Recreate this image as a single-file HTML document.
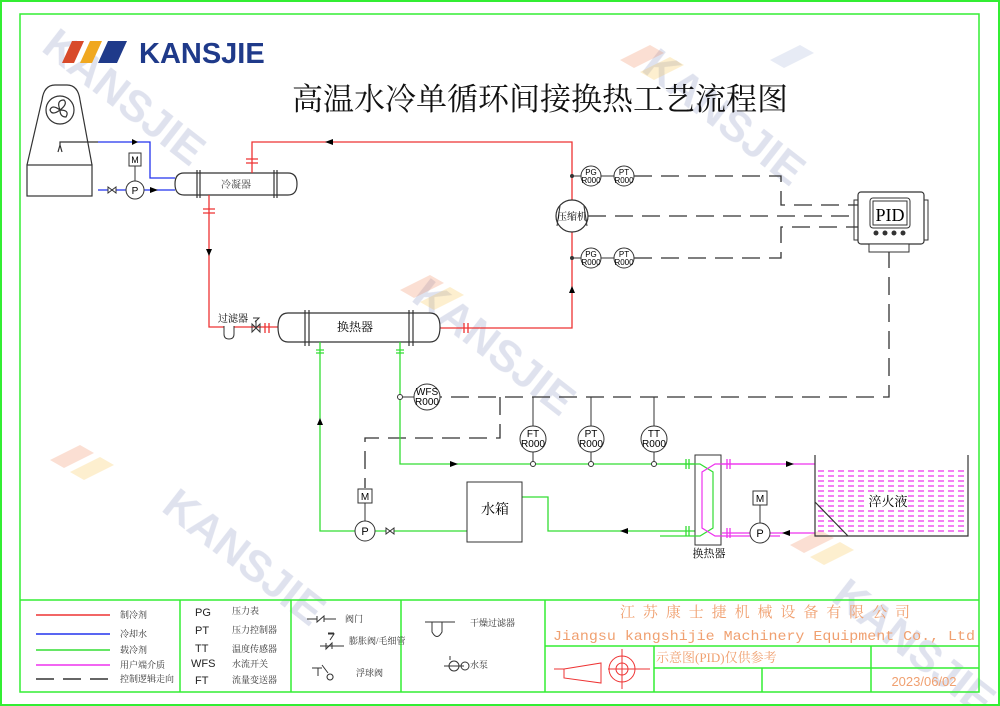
<!DOCTYPE html>
<html><head><meta charset="utf-8"><style>
body{margin:0;background:#fff;}
svg{display:block;font-family:"Liberation Sans","Noto Sans CJK SC",sans-serif;}
.s{font-family:"Liberation Serif","Noto Serif CJK SC",serif;}
</style></head><body>
<svg width="1000" height="706" viewBox="0 0 1000 706">
<!-- watermarks -->
<g fill="#c5cbe0" font-weight="bold" font-size="44" opacity="0.55">
<text transform="translate(40,50) rotate(38)">KANSJIE</text>
<text transform="translate(640,70) rotate(38)">KANSJIE</text>
<text transform="translate(410,300) rotate(38)">KANSJIE</text>
<text transform="translate(160,510) rotate(38)">KANSJIE</text>
<text transform="translate(830,600) rotate(38)">KANSJIE</text>
</g>
<g opacity="0.25">
<path d="M620,60 l30,-15 l14,8 l-30,15z" fill="#f08050"/><path d="M640,72 l30,-15 l14,8 l-30,15z" fill="#f5c040"/>
<path d="M400,290 l30,-15 l14,8 l-30,15z" fill="#f08050"/><path d="M420,302 l30,-15 l14,8 l-30,15z" fill="#f5c040"/>
<path d="M50,460 l30,-15 l14,8 l-30,15z" fill="#f08050"/><path d="M70,472 l30,-15 l14,8 l-30,15z" fill="#f5c040"/>
<path d="M790,545 l30,-15 l14,8 l-30,15z" fill="#f08050"/><path d="M810,557 l30,-15 l14,8 l-30,15z" fill="#f5c040"/>
<path d="M770,60 l30,-15 l14,8 l-30,15z" fill="#a0b0d8"/>
</g>
<!-- borders -->
<rect x="1" y="1" width="998" height="704" fill="none" stroke="#33ee33" stroke-width="2"/>
<rect x="20" y="14" width="959" height="678" fill="none" stroke="#33ee33" stroke-width="1.5"/>
<!-- logo -->
<path d="M72,41 h12 l-10,22 h-12z" fill="#d84a2a"/>
<path d="M90,41 h12 l-10,22 h-12z" fill="#f0a820"/>
<path d="M108,41 h19 l-10,22 h-19z" fill="#1f3a8a"/>
<text x="139" y="63" font-size="29" font-weight="bold" fill="#1f3a8a">KANSJIE</text>
<text x="540" y="110" font-size="31" text-anchor="middle" class="s" fill="#111">高温水冷单循环间接换热工艺流程图</text>

<g fill="none" stroke="#333" stroke-width="1.2">
<path d="M27,165 L42,100 Q44,85 55,85 L67,85 Q78,85 80,100 L92,165"/>
<rect x="27" y="165" width="65" height="31"/>
<circle cx="60" cy="110" r="14"/>
<path d="M60,110 q-4,-10 4,-10 q4,4 -4,10 M60,110 q10,0 6,7 q-6,0 -6,-7 M60,110 q-8,6 -10,0 q2,-6 10,0"/>
<path d="M58,152 l2,-7 l2,7 M60,145 v-3 h38"/>
</g>
<g fill="none" stroke="#2233ee" stroke-width="1.3">
<path d="M98,142 H150 V178 H175"/>
<path d="M98,190 H175"/>
</g>
<path d="M138,142 l-6,-3 v6z" fill="#000"/>
<path d="M158,190 l-8,-3 v6z" fill="#000"/>
<g fill="#fff" stroke="#333" stroke-width="1">
<path d="M108,187 v6 l8,-6 v6z"/>
<circle cx="135" cy="190" r="9"/>
<rect x="129" y="153" width="12" height="13"/>
</g>
<line x1="135" y1="166" x2="135" y2="181" stroke="#333"/>
<text x="135" y="194" font-size="10" text-anchor="middle">P</text>
<text x="135" y="163" font-size="9" text-anchor="middle">M</text>
<path d="M184,173 H288 Q297,173 297,184 Q297,195 288,195 H184 Q175,195 175,184 Q175,173 184,173z" fill="#fff" stroke="#333" stroke-width="1.2"/>
<g stroke="#333" stroke-width="1.2"><line x1="197" y1="170" x2="197" y2="198"/><line x1="200" y1="170" x2="200" y2="198"/><line x1="274" y1="170" x2="274" y2="198"/><line x1="277" y1="170" x2="277" y2="198"/></g>
<text x="236" y="188" font-size="10" text-anchor="middle" class="s" fill="#444">冷凝器</text>

<g fill="none" stroke="#ee3333" stroke-width="1.3">
<path d="M252,173 V142 H572 V200"/>
<path d="M572,232 V328 H440"/>
<path d="M209,195 V327 H278"/>
<path d="M246,159 h12 M246,163 h12 M203,209 h12 M203,213 h12 M464,323 v10 M468,323 v10 M265,323 v10 M269,323 v10"/>
</g>
<path d="M325,142 l8,-3 v6z" fill="#000"/>
<path d="M209,256 l-3,-7 h6z" fill="#000"/>
<path d="M572,286 l-3,7 h6z" fill="#000"/>
<path d="M224,326 v8 q0,5 5,5 q5,0 5,-5 v-8" fill="#fff" stroke="#333"/>
<text x="233" y="322" font-size="10" text-anchor="middle" class="s">过滤器</text>
<path d="M252,324 v8 l8,-8 v8z M256,328 v-8 M253,318 h6 l-4,4" fill="none" stroke="#333"/>
<path d="M288,313 H430 Q440,313 440,327 Q440,342 430,342 H288 Q278,342 278,327 Q278,313 288,313z" fill="#fff" stroke="#333" stroke-width="1.2"/>
<g stroke="#333" stroke-width="1.2"><line x1="305" y1="310" x2="305" y2="346"/><line x1="309" y1="310" x2="309" y2="346"/><line x1="409" y1="310" x2="409" y2="346"/><line x1="413" y1="310" x2="413" y2="346"/></g>
<text x="355" y="331" font-size="12" text-anchor="middle" class="s">换热器</text>

<circle cx="572" cy="216" r="16" fill="#fff" stroke="#333" stroke-width="1.2"/>
<path d="M560,206 l-3,20 M584,206 l3,20" stroke="#333" fill="none"/>
<text x="572" y="220" font-size="10" text-anchor="middle" class="s">压缩机</text>
<g fill="#fff" stroke="#333"><circle cx="591" cy="176" r="10"/><circle cx="624" cy="176" r="10"/><circle cx="591" cy="258" r="10"/><circle cx="624" cy="258" r="10"/></g>
<circle cx="572" cy="176" r="2" fill="#333"/><circle cx="572" cy="258" r="2" fill="#333"/>
<line x1="572" y1="176" x2="581" y2="176" stroke="#333"/><line x1="601" y1="176" x2="614" y2="176" stroke="#333"/>
<line x1="572" y1="258" x2="581" y2="258" stroke="#333"/><line x1="601" y1="258" x2="614" y2="258" stroke="#333"/>
<g font-size="8" text-anchor="middle"><text x="591" y="175">PG</text><text x="591" y="183">R000</text><text x="624" y="175">PT</text><text x="624" y="183">R000</text><text x="591" y="257">PG</text><text x="591" y="265">R000</text><text x="624" y="257">PT</text><text x="624" y="265">R000</text></g>
<g fill="none" stroke="#333" stroke-width="1.3" stroke-dasharray="18,9">
<path d="M634,176 H781 V205 H858"/>
<path d="M588,216 H858"/>
<path d="M634,258 H781 V227 H858"/>
<path d="M889,250 V397 H440"/>
<path d="M500,397 V438 H365 V488"/>
</g>
<rect x="858" y="192" width="66" height="52" rx="3" fill="#fff" stroke="#333" stroke-width="1.2"/>
<rect x="870" y="198" width="40" height="30" rx="3" fill="#fff" stroke="#333"/>
<rect x="873" y="201" width="34" height="24" fill="#fff" stroke="#333"/>
<text x="890" y="221" font-size="18" text-anchor="middle" class="s">PID</text>
<g fill="#333"><circle cx="876" cy="233" r="2.5"/><circle cx="885" cy="233" r="2.5"/><circle cx="894" cy="233" r="2.5"/><circle cx="903" cy="233" r="2.5"/></g>
<rect x="869" y="244" width="40" height="8" fill="#fff" stroke="#333"/>
<path d="M858,200 h-4 v40 h4 M924,200 h4 v40 h-4" fill="none" stroke="#333"/>

<g fill="none" stroke="#33dd33" stroke-width="1.3">
<path d="M320,342 V531 H355"/>
<path d="M375,531 H467"/>
<path d="M522,497 H548 V531 H695"/>
<path d="M400,342 V464 H695"/>
<path d="M316,350 h8 M316,353 h8 M396,350 h8 M396,353 h8 M686,459 v10 M689,459 v10 M686,526 v10 M689,526 v10"/>
</g>
<path d="M320,418 l-3,7 h6z" fill="#000"/>
<path d="M458,464 l-8,-3 v6z" fill="#000"/>
<path d="M620,531 l8,-3 v6z" fill="#000"/>
<circle cx="400" cy="397" r="2.5" fill="#fff" stroke="#333"/>
<line x1="402" y1="397" x2="414" y2="397" stroke="#333"/>
<circle cx="427" cy="397" r="13" fill="#fff" stroke="#333"/>
<g font-size="10" text-anchor="middle"><text x="427" y="395">WFS</text><text x="427" y="405">R000</text></g>
<g stroke="#333" fill="#fff">
<line x1="533" y1="397" x2="533" y2="462"/><line x1="591" y1="397" x2="591" y2="462"/><line x1="654" y1="397" x2="654" y2="462"/>
<circle cx="533" cy="439" r="13"/><circle cx="591" cy="439" r="13"/><circle cx="654" cy="439" r="13"/>
<circle cx="533" cy="464" r="2.5"/><circle cx="591" cy="464" r="2.5"/><circle cx="654" cy="464" r="2.5"/>
</g>
<g font-size="10" text-anchor="middle"><text x="533" y="437">FT</text><text x="533" y="447">R000</text><text x="591" y="437">PT</text><text x="591" y="447">R000</text><text x="654" y="437">TT</text><text x="654" y="447">R000</text></g>
<g fill="#fff" stroke="#333"><circle cx="365" cy="531" r="10"/><rect x="358" y="489" width="14" height="14"/><path d="M386,528 v6 l8,-6 v6z"/></g>
<line x1="365" y1="503" x2="365" y2="521" stroke="#333"/>
<text x="365" y="535" font-size="11" text-anchor="middle">P</text><text x="365" y="500" font-size="10" text-anchor="middle">M</text>
<rect x="467" y="482" width="55" height="60" fill="#fff" stroke="#333"/>
<text x="495" y="514" font-size="14" text-anchor="middle" class="s">水箱</text>
<rect x="695" y="455" width="26" height="90" fill="#fff" stroke="#333"/>
<path d="M660,464 H700 L713,472 V528 L700,536 H660" fill="none" stroke="#33dd33" stroke-width="1.2"/>
<path d="M780,464 H715 L702,472 V528 L715,536 H780" fill="none" stroke="#ee33ee" stroke-width="1.2"/>
<text x="709" y="557" font-size="11" text-anchor="middle" class="s">换热器</text>
<g fill="none" stroke="#ee33ee" stroke-width="1.3">
<path d="M722,464 H815 M722,533 H750 M770,533 H815 M727,459 v10 M730,459 v10 M727,528 v10 M730,528 v10"/>
</g>
<path d="M794,464 l-8,-3 v6z" fill="#000"/>
<path d="M782,533 l8,-3 v6z" fill="#000"/>
<g fill="#fff" stroke="#333"><circle cx="760" cy="533" r="10"/><rect x="753" y="491" width="14" height="14"/></g>
<line x1="760" y1="505" x2="760" y2="523" stroke="#333"/>
<text x="760" y="537" font-size="11" text-anchor="middle">P</text><text x="760" y="502" font-size="10" text-anchor="middle">M</text>
<g stroke="#ee33ee" stroke-width="1.3" stroke-dasharray="6,4">
<line x1="818" y1="471" x2="966" y2="471"/><line x1="818" y1="476" x2="966" y2="476"/><line x1="818" y1="481" x2="966" y2="481"/><line x1="818" y1="486" x2="966" y2="486"/><line x1="818" y1="491" x2="966" y2="491"/><line x1="818" y1="496" x2="966" y2="496"/><line x1="818" y1="501" x2="966" y2="501"/><line x1="818" y1="506" x2="966" y2="506"/><line x1="818" y1="511" x2="966" y2="511"/><line x1="818" y1="516" x2="966" y2="516"/><line x1="818" y1="521" x2="966" y2="521"/><line x1="818" y1="526" x2="966" y2="526"/><line x1="818" y1="531" x2="966" y2="531"/>
</g>
<rect x="868" y="492" width="40" height="16" fill="#fff"/>
<text x="888" y="506" font-size="13" text-anchor="middle" class="s">淬火液</text>
<path d="M815,455 V536 H968 V455 M815,502 L848,536" fill="none" stroke="#333" stroke-width="1.2"/>

<g fill="none" stroke="#33ee33" stroke-width="1.5">
<line x1="20" y1="600" x2="979" y2="600"/>
<line x1="180" y1="600" x2="180" y2="692"/><line x1="291" y1="600" x2="291" y2="692"/><line x1="401" y1="600" x2="401" y2="692"/><line x1="545" y1="600" x2="545" y2="692"/>
<line x1="545" y1="646" x2="979" y2="646"/><line x1="654" y1="668" x2="979" y2="668"/>
<line x1="654" y1="646" x2="654" y2="692"/><line x1="762" y1="668" x2="762" y2="692"/><line x1="871" y1="646" x2="871" y2="692"/>
</g>
<g stroke-width="1.5">
<line x1="36" y1="615" x2="110" y2="615" stroke="#ee3333"/>
<line x1="36" y1="634" x2="110" y2="634" stroke="#2233ee"/>
<line x1="36" y1="650" x2="110" y2="650" stroke="#33dd33"/>
<line x1="36" y1="665" x2="110" y2="665" stroke="#ee33ee"/>
<line x1="36" y1="679" x2="110" y2="679" stroke="#333" stroke-dasharray="18,9"/>
</g>
<g font-size="9" class="s" fill="#333">
<text x="120" y="618">制冷剂</text><text x="120" y="637">冷却水</text><text x="120" y="653">载冷剂</text><text x="120" y="668">用户端介质</text><text x="120" y="682">控制逻辑走向</text>
<text x="232" y="614">压力表</text><text x="232" y="633">压力控制器</text><text x="232" y="652">温度传感器</text><text x="232" y="667">水流开关</text><text x="232" y="683">流量变送器</text>
<text x="345" y="622">阀门</text><text x="349" y="644">膨胀阀/毛细管</text><text x="356" y="676">浮球阀</text>
<text x="470" y="626">干燥过滤器</text><text x="470" y="668">水泵</text>
</g>
<g font-size="11" fill="#222"><text x="195" y="616">PG</text><text x="195" y="634">PT</text><text x="195" y="652">TT</text><text x="191" y="667">WFS</text><text x="195" y="684">FT</text></g>
<g fill="none" stroke="#333">
<path d="M307,619 h10 M317,616 v6 l7,-6 v6 M324,619 h12"/>
<path d="M320,646 h24 M326,643 v6 l6,-6 v6 M330,640 l4,-6 h-6 M328,633 h6"/>
<path d="M312,668 h10 M318,668 v8 M322,665 l6,8 M330,674 a3,3 0 1 0 0.1,0"/>
<path d="M425,622 h24 M432,622 v10 q5,9 10,0 v-10 M449,622 l6,0"/>
<path d="M444,666 h20 M450,660 v-4"/>
<circle cx="454" cy="666" r="5"/><circle cx="465" cy="666" r="4"/>
</g>
<text x="620" y="617" font-size="15" fill="#f0a070" class="s" textLength="290" lengthAdjust="spacing">江苏康士捷机械设备有限公司</text>
<text x="553" y="640" font-size="14" fill="#f0a070" font-family="Liberation Mono,monospace" textLength="422" lengthAdjust="spacingAndGlyphs">Jiangsu kangshijie Machinery Equipment Co., Ltd</text>
<text x="656" y="662" font-size="13" fill="#f0a070" class="s">示意图(PID)仅供参考</text>
<text x="924" y="686" font-size="13" text-anchor="middle" fill="#f0a070">2023/06/02</text>
<g fill="none" stroke="#ee3333">
<path d="M564,669 l37,-6 v20 l-37,-5z M554,669 h10 M608,669 h42"/>
<circle cx="622" cy="669" r="13"/><circle cx="622" cy="669" r="6"/>
<line x1="622" y1="649" x2="622" y2="689"/>
</g>
</svg>
</body></html>
